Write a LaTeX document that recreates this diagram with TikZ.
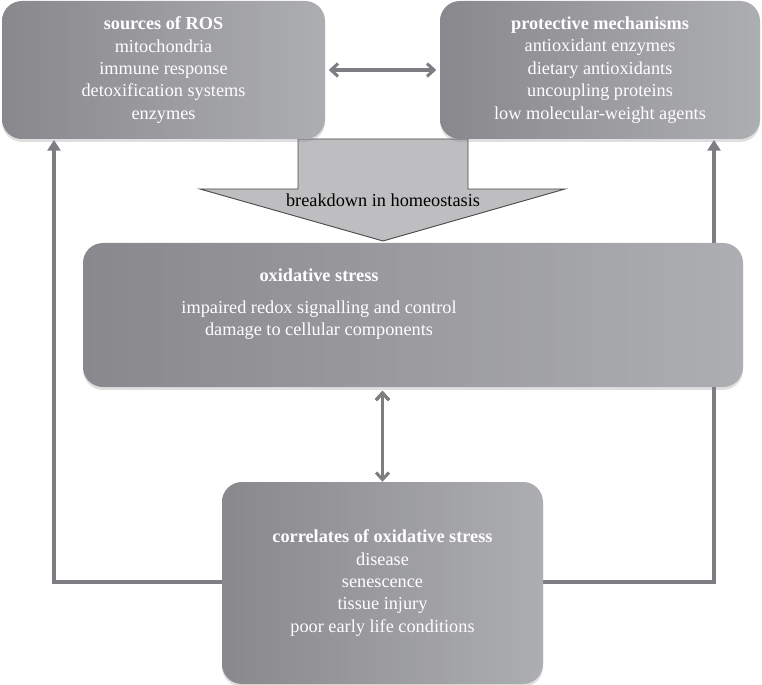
\documentclass[tikz,border=0pt]{standalone}
\usepackage{fontspec}
\setmainfont{Liberation Serif}
\usetikzlibrary{arrows.meta,calc,shadows}
\definecolor{boxL}{RGB}{137,137,141}
\definecolor{boxR}{RGB}{173,174,178}
\definecolor{linegray}{RGB}{126,126,130}
\definecolor{arrowfill}{RGB}{190,190,192}
\tikzset{
  txt/.style={font=\fontsize{15.6}{19.1}\selectfont},
  box/.style={txt,shape=rectangle,rounded corners=17pt,left color=boxL,right color=boxR,
    text=white,align=center,inner sep=0pt,
    drop shadow={shadow xshift=0pt,shadow yshift=-2.5pt,opacity=0.25}},
  dbl/.style={{Straight Barb[length=6pt,width=11pt]}-{Straight Barb[length=6pt,width=11pt]},
    draw=linegray,line width=2.6pt},
  conn/.style={-{Triangle[length=9pt,width=11pt]},draw=linegray,line width=2.6pt},
}
\begin{document}
\begin{tikzpicture}[x=0.03cm,y=-0.03cm]
\useasboundingbox (0,0) rectangle (762,685);
% block arrow behind the boxes
\draw[fill=arrowfill,draw=black!70,line width=0.8pt]
  (298,139) -- (298,189) -- (200,189) -- (383,241) -- (565,189) -- (468,189) -- (468,139) -- cycle;
\node(brk) at (383,200)[txt,text=black] {breakdown in homeostasis};
% connectors to the top boxes
\coordinate(srcin) at (54,140);
\coordinate(protin) at (714,140);
\draw[conn] (222,582) -| (srcin);
\draw[conn] (543,582) -| (protin);
% boxes
\node(src) at (163.5,70)[box,minimum width=323*0.03cm,minimum height=138*0.03cm]
  {\textbf{sources of ROS}\\mitochondria\\immune response\\detoxification systems\\enzymes};
\node(prot) at (600,70)[box,minimum width=320*0.03cm,minimum height=138*0.03cm]
  {\textbf{protective mechanisms}\\antioxidant enzymes\\dietary antioxidants\\uncoupling proteins\\low molecular-weight agents};
\node(oxs) at (413,315)[box,minimum width=660*0.03cm,minimum height=144*0.03cm] {};
\node(oxstxt) at (319,304)[txt,text=white,align=center]
  {\textbf{oxidative stress}\\[8pt]impaired redox signalling and control\\damage to cellular components};
\node(corr) at (382.5,583)[box,minimum width=321*0.03cm,minimum height=202*0.03cm]
  {\textbf{correlates of oxidative stress}\\disease\\senescence\\tissue injury\\poor early life conditions};
\path [dbl]
  ([xshift=3pt]src.east)   edge  ([xshift=-3pt]prot.west)
  ([yshift=-3pt]corr.north |- oxs.south)  edge  (corr.north);
\end{tikzpicture}
\end{document}
